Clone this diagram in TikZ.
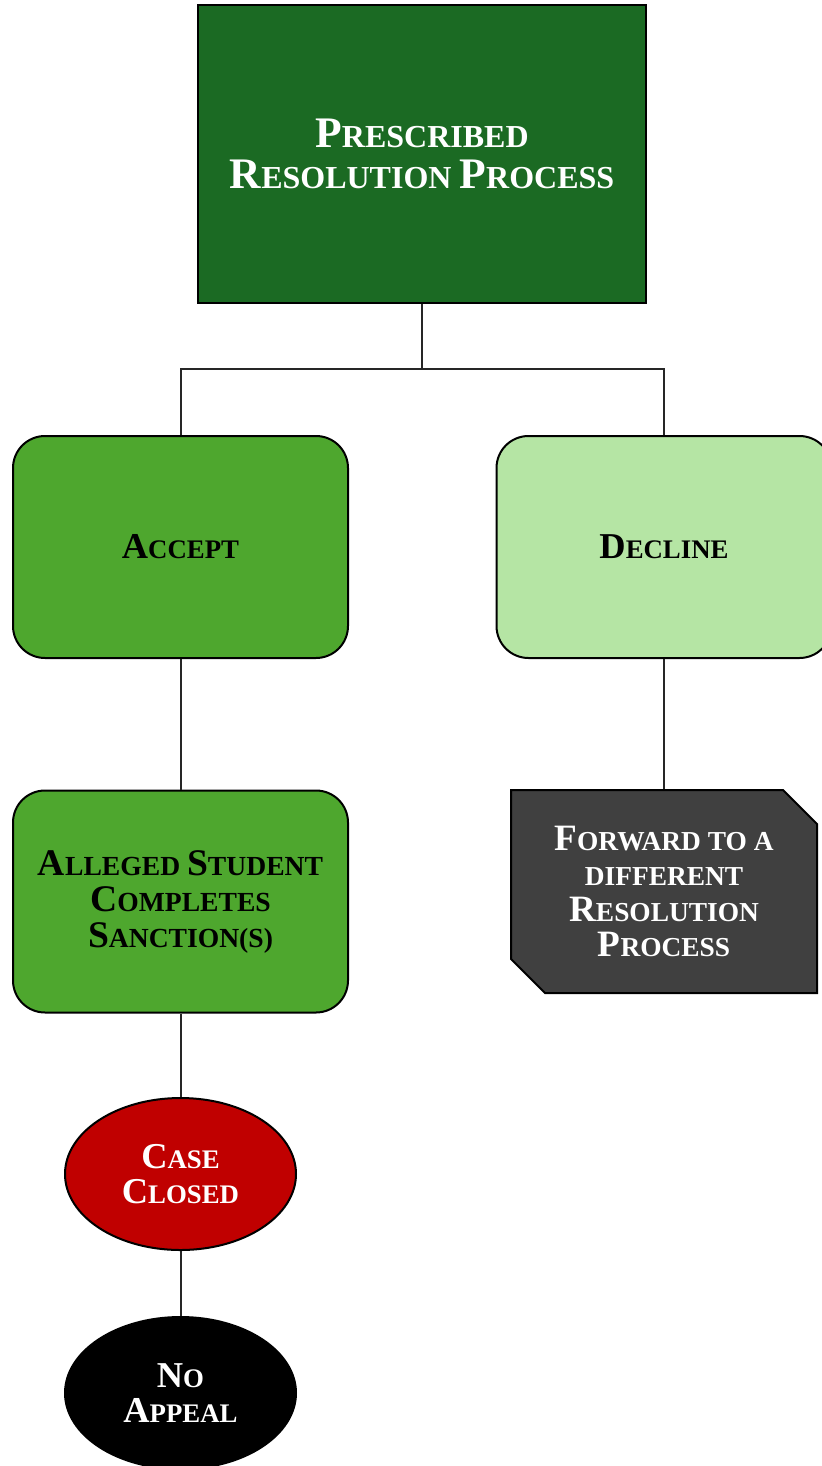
\documentclass[tikz,border=0pt]{standalone}
\usepackage{fontspec}
\setmainfont{Liberation Serif}
\usetikzlibrary{shapes.geometric,shapes.misc}

\definecolor{prgreen}{RGB}{27,106,35}
\definecolor{acgreen}{RGB}{78,167,46}
\definecolor{dclgreen}{RGB}{181,229,164}
\definecolor{fwdgray}{RGB}{64,64,64}
\definecolor{closedred}{RGB}{192,0,0}

% faux small caps: the capital letter at a larger size
\newcommand{\capl}[2][18.2]{{\fontsize{#1}{#1}\selectfont #2}}

\begin{document}
\begin{tikzpicture}[x=0.5pt,y=-0.5pt,
    every node/.style={line width=1pt,align=center,inner sep=0pt,
        font=\bfseries\fontsize{13.4}{17.75}\selectfont},
    stepbox/.style={draw=black,rounded corners=16pt,minimum width=167.5pt,minimum height=111pt},
    endoval/.style={draw=black,ellipse,minimum width=115.5pt,minimum height=76pt,text=white},
    link/.style={line width=1pt,draw=black!85}]
        \useasboundingbox (0,0) rectangle (821,1466);

        \node (prescribed) at (422,154) [draw=black,fill=prgreen,text=white,
            minimum width=224pt,minimum height=149pt,
            font=\bfseries\fontsize{16}{20.5}\selectfont]
            {\capl[21.8]{P}RESCRIBED\\ \capl[21.8]{R}ESOLUTION \capl[21.8]{P}ROCESS};

        \node (accept) at (180.5,547) [stepbox,fill=acgreen] {\capl{A}CCEPT};
        \node (decline) at (664,547) [stepbox,fill=dclgreen] {\capl{D}ECLINE};

        \node (completes) at (180.5,901.5) [stepbox,fill=acgreen,
            font=\bfseries\fontsize{13.8}{18}\selectfont]
            {\capl[18.8]{A}LLEGED \capl[18.8]{S}TUDENT\\ \capl[18.8]{C}OMPLETES\\ \capl[18.8]{S}ANCTION(S)};

        \node (forward) at (664,891.5) [draw=black,fill=fwdgray,text=white,
            chamfered rectangle,chamfered rectangle corners={north east,south west},
            chamfered rectangle xsep=8.5pt,chamfered rectangle ysep=8.5pt,
            minimum width=153pt,minimum height=101.5pt,
            font=\bfseries\fontsize{13.7}{17.75}\selectfont]
            {\capl[18.6]{F}ORWARD TO A\\ DIFFERENT\\ \capl[18.6]{R}ESOLUTION\\ \capl[18.6]{P}ROCESS};

        \node (closed) at (180.5,1174) [endoval,fill=closedred] {\capl{C}ASE\\ \capl{C}LOSED};
        \node (noappeal) at (180.5,1393) [endoval,fill=black] {\capl{N}O\\ \capl{A}PPEAL};

        \coordinate (split) at (422,369);
        \draw[link] (prescribed.south) -- (split) -| (accept.north);
        \draw[link] (split) -| (decline.north);
        \draw[link] (accept.south) -- (completes.north);
        \draw[link] (decline.south) -- (forward.north);
        \draw[link] (completes.south) -- (closed.north);
        \draw[link] (closed.south) -- (noappeal.north);
\end{tikzpicture}
\end{document}
